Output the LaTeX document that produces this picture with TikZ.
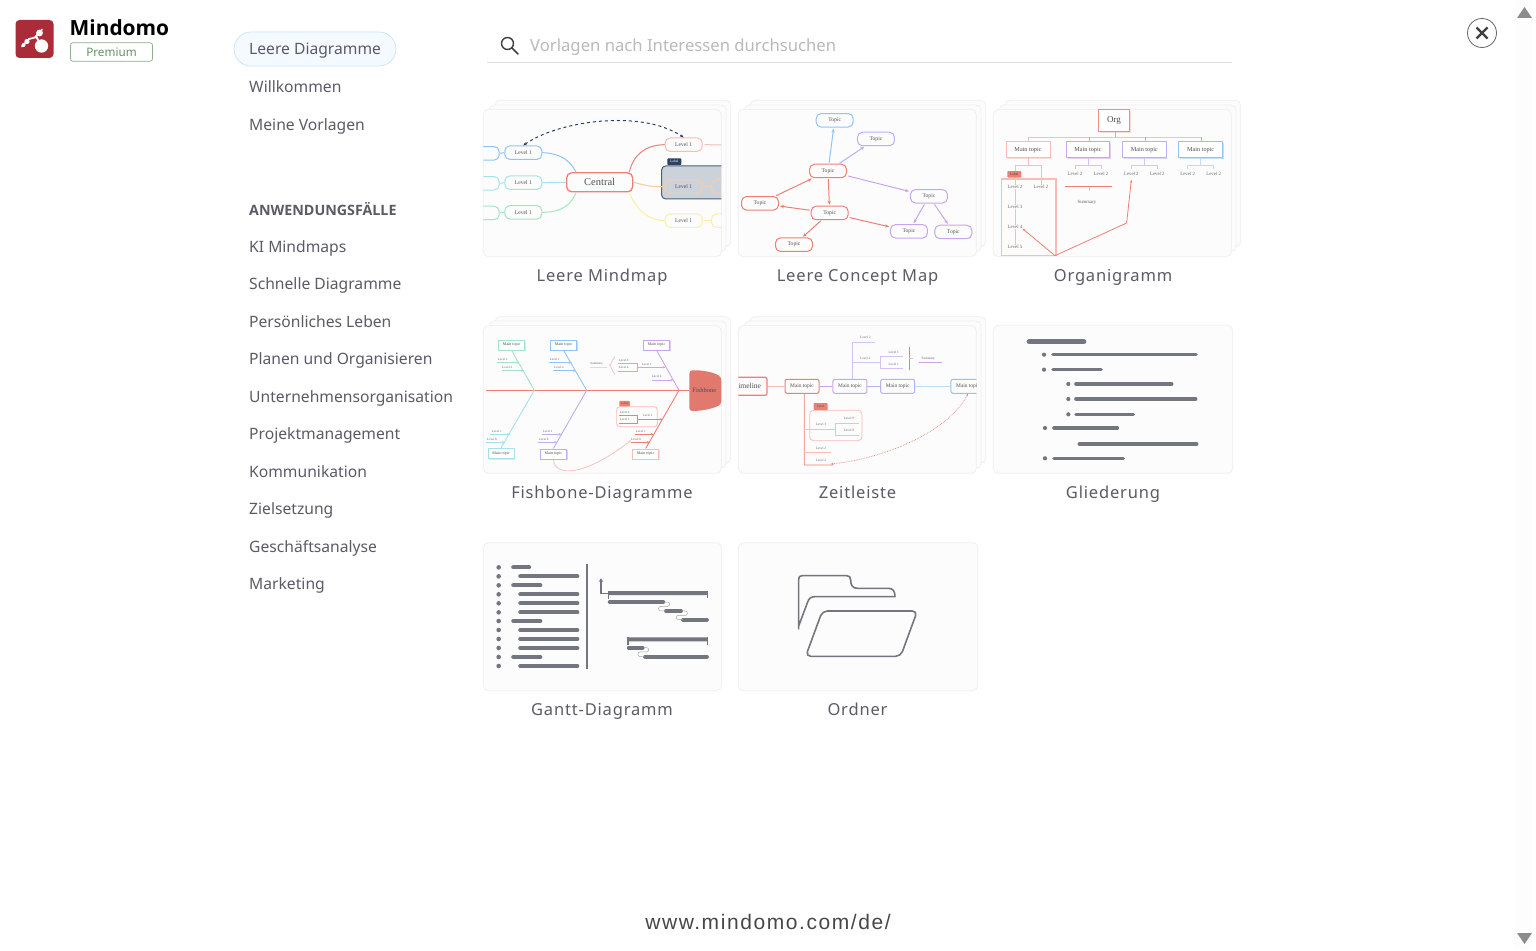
\documentclass[tikz,border=0pt]{standalone}
\usepackage{fontspec}
\setmainfont{Noto Sans}
\newfontfamily\headfont{Open Sans}
\newfontfamily\cardfont[LetterSpace=5]{Noto Sans}
\newfontfamily\urlfont[LetterSpace=7.5]{Liberation Sans}
\newfontfamily\thumbfont{Liberation Serif}
\usetikzlibrary{arrows.meta,shadows}
\definecolor{navtext}{HTML}{5B5B66}
\definecolor{cardedge}{HTML}{EEEEF0}
\definecolor{cardfill}{HTML}{FCFCFC}
\definecolor{bargray}{HTML}{74767F}
\definecolor{logored}{HTML}{A92C38}
\definecolor{mmred}{HTML}{EE7F74}
\definecolor{mmpale}{HTML}{F8BDB7}
\definecolor{mmblue}{HTML}{90C4F6}
\definecolor{mmcyan}{HTML}{A6E2EA}
\definecolor{mmgreen}{HTML}{A3E4C4}
\definecolor{mmyellow}{HTML}{FBEFA8}
\definecolor{mmorange}{HTML}{F3CFA6}
\definecolor{mmpurple}{HTML}{C9A5F0}
\definecolor{mmlav}{HTML}{B7B2F6}
\definecolor{mmnavy}{HTML}{2C4263}
\definecolor{mmslate}{HTML}{CBD2DA}
\tikzset{
  navitem/.style={anchor=base west,inner sep=0pt,text=navtext,font=\fontsize{15.65}{19}\selectfont},
  cardlabel/.style={anchor=base,inner sep=0pt,text=navtext,font=\cardfont\fontsize{16.5}{19}\selectfont},
  thumb/.style 2 args={shift={(#1,#2)},x=0.3333pt,y=-0.3333pt},
  card/.style={draw=cardedge,fill=cardfill,line width=0.7pt,rounded corners=5pt},
  tinytext/.style={inner sep=0pt,text=black!60,font=\thumbfont\fontsize{4.8}{5}\selectfont},
  pilltopic/.style={draw=#1,fill=cardfill,line width=1pt,rounded corners=5pt,minimum width=37pt,minimum height=13.5pt,inner sep=0pt,text=black!68,font=\thumbfont\fontsize{5.6}{6}\selectfont},
  mainbox/.style={draw=#1,fill=white,line width=0.9pt,general shadow={fill=#1!55,shadow xshift=1.3pt,shadow yshift=-1.3pt},inner sep=0pt,text=black!70,font=\thumbfont\fontsize{6.2}{7}\selectfont},
  bartag/.style={fill=#1,rounded corners=0.8pt,inner sep=0pt,minimum width=14pt,minimum height=6.5pt,text=white,font=\thumbfont\fontsize{3.6}{4}\selectfont},
  bar/.style={line width=#1,line cap=round,draw=bargray},
  tip/.style={-{Stealth[length=4pt,width=3.4pt]},shorten >=1pt,shorten <=1pt},
  tipsmall/.style={-{Stealth[length=3pt,width=2.4pt]}},
}
\begin{document}
\begin{tikzpicture}[x=1pt,y=-1pt]
\useasboundingbox (0,0) rectangle (1536,950);
\fill[white] (0,0) rectangle (1536,950);
% scrollbar
\fill[black!0.8] (1514,0) rectangle (1532,950);
\fill[black!45] (1524.5,7) -- (1532,18) -- (1517,18) -- cycle;
\fill[black!45] (1517,933) -- (1532,933) -- (1524.5,944) -- cycle;
% logo
\fill[logored,rounded corners=4pt] (15.5,20) rectangle (53.5,58);
\fill[white] (41.5,46) circle (6.7pt);
\fill[white] (39.5,33) circle (3.4pt);
\fill[white] (27,41.5) circle (2.6pt);
\fill[white] (23.5,45) circle (2pt);
\draw[white,line width=1.8pt,line cap=round] (22,46.5) -- (29,39) -- (35,37.5) -- (42,29.5);
\draw[white,line width=2pt,line cap=round] (36,36) -- (40,44);
\node[anchor=base west,inner sep=0pt,font=\headfont\bfseries\fontsize{20.9}{24}\selectfont] (brand) at (69.5,36) {Mindomo};
\node[draw=green!30!black!45,fill=white,rounded corners=2.5pt,line width=0.7pt,minimum width=82pt,minimum height=18.5pt,inner sep=0pt,text=green!30!black!60,font=\fontsize{11.7}{14}\selectfont] (plan) at (111.5,52) {Premium};
% side menu
\node[draw=blue!50!cyan!22,fill=blue!50!cyan!4,rounded corners=17pt,line width=0.7pt,minimum width=162pt,minimum height=34pt] (pill) at (315,49) {};
\node[navitem] (navBlank) at (249,55) {Leere Diagramme};
\node[navitem] (navWelcome) at (249,92.5) {Willkommen};
\node[navitem] (navMine) at (249,130) {Meine Vorlagen};
\node[navitem,font=\headfont\bfseries\fontsize{14.25}{17}\selectfont] (navHead) at (249,215) {ANWENDUNGSFÄLLE};
\node[navitem] (navAi) at (249,252) {KI Mindmaps};
\node[navitem] (navFast) at (249,289.5) {Schnelle Diagramme};
\node[navitem] (navLife) at (249,327) {Persönliches Leben};
\node[navitem] (navPlan) at (249,364.5) {Planen und Organisieren};
\node[navitem] (navOrg) at (249,402) {Unternehmensorganisation};
\node[navitem] (navProj) at (249,439.5) {Projektmanagement};
\node[navitem] (navComm) at (249,477) {Kommunikation};
\node[navitem] (navGoal) at (249,514.5) {Zielsetzung};
\node[navitem] (navBiz) at (249,552) {Geschäftsanalyse};
\node[navitem] (navMark) at (249,589.5) {Marketing};
% search
\draw[black!75,line width=1.4pt] (507.5,43.5) circle (6pt);
\draw[black!75,line width=1.6pt,line cap=round] (512,48) -- (518,54);
\node[anchor=base west,inner sep=0pt,text=black!27,font=\fontsize{16.67}{20}\selectfont] (searchText) at (530,52) {Vorlagen nach Interessen durchsuchen};
\draw[black!14,line width=0.8pt] (487,62.5) -- (1232,62.5);
% close
\node[circle,draw=black!60,line width=0.8pt,minimum size=29pt,inner sep=0pt] (closeBtn) at (1482,33) {};
\draw[black!75,line width=2.4pt] (1476.5,27.5) -- (1487.5,38.5);
\draw[black!75,line width=2.4pt] (1487.5,27.5) -- (1476.5,38.5);
% footer
\node[anchor=base,inner sep=0pt,text=black!72,font=\urlfont\fontsize{21}{24}\selectfont] (footer) at (768,929) {www.mindomo.com/de/};

% card labels
\node[cardlabel] (capMind) at (602,281.5) {Leere Mindmap};
\node[cardlabel] (capConcept) at (857.5,281.5) {Leere Concept Map};
\node[cardlabel] (capOrg) at (1113,281.5) {Organigramm};
\node[cardlabel] (capFish) at (602,498.5) {Fishbone-Diagramme};
\node[cardlabel] (capTime) at (857.5,498.5) {Zeitleiste};
\node[cardlabel] (capOutline) at (1113,498.5) {Gliederung};
\node[cardlabel] (capGantt) at (602,715.5) {Gantt-Diagramm};
\node[cardlabel] (capFolder) at (857.5,715.5) {Ordner};

% mindmap
\begin{scope}[thumb={480}{95}]
\draw[card] (45,16) rectangle (752,455);
\draw[card] (28,30) rectangle (738,470);
\draw[card] (10,43) rectangle (724,485);
\clip[rounded corners=5pt] (10,43) rectangle (724,485);
\draw[draw=mmnavy!85,fill=mmslate,line width=1pt,rounded corners=4pt] (545,213) rectangle (780,312);
\node[bartag=mmnavy] (tagA) at (583,200) {Label};
\node[pilltopic=mmred,line width=1.3pt,minimum width=66pt,minimum height=19pt,font=\thumbfont\fontsize{10.5}{12}\selectfont] (cen) at (359,262) {Central};
\node[pilltopic=mmblue] (lvA) at (130,173) {Level 1};
\node[pilltopic=mmcyan] (lvB) at (130,263) {Level 1};
\node[pilltopic=mmgreen] (lvC) at (130,352) {Level 1};
\node[pilltopic=mmblue] (farA) at (2,175) {};
\node[pilltopic=mmcyan] (farB) at (2,265) {};
\node[pilltopic=mmgreen] (farC) at (2,354) {};
\node[pilltopic=mmpale] (rtA) at (611,149) {Level 1};
\node[pilltopic=mmorange,fill=none] (rtB) at (611,275) {Level 1};
\node[pilltopic=mmyellow] (rtC) at (611,377) {Level 1};
\node[pilltopic=mmorange,fill=none] (farD) at (750,275) {};
\node[pilltopic=mmyellow] (farE) at (750,377) {};
\coordinate (endA) at (730,150);
\draw[mmblue,line width=1pt] (lvA.east) .. controls (250,175) and (275,205) .. ([xshift=10pt]cen.north west);
\draw[mmcyan,line width=1.1pt] (lvB.east) -- (cen.west);
\draw[mmgreen,line width=1pt] (lvC.east) .. controls (250,352) and (275,325) .. ([xshift=10pt]cen.south west);
\draw[mmblue,line width=1pt] (lvA.west) -- (farA.east);
\draw[mmcyan,line width=1pt] (lvB.west) -- (farB.east);
\draw[mmgreen,line width=1pt] (lvC.west) -- (farC.east);
\draw[mmred,line width=1pt] ([xshift=-4pt]cen.north east) .. controls (460,180) and (495,150) .. (rtA.west);
\draw[mmorange,line width=1.1pt] (cen.east) .. controls (500,272) and (520,277) .. (rtB.west);
\draw[mmyellow,line width=1pt] ([xshift=-4pt]cen.south east) .. controls (470,345) and (505,377) .. (rtC.west);
\draw[mmpale,line width=1pt] ([xshift=2pt]rtA.east) -- (endA);
\draw[mmorange,line width=1pt] (rtB.east) -- (farD.west);
\draw[mmyellow,line width=1pt] (rtC.east) -- (farE.west);
\draw[mmnavy,line width=1pt,dashed,{Stealth[length=3.5pt,width=3pt]}-{Stealth[length=3.5pt,width=3pt]}] (lvA.north) .. controls (230,80) and (480,40) .. (rtA.north);
\end{scope}

% concept map
\begin{scope}[thumb={735}{95}]
\draw[card] (45,16) rectangle (752,455);
\draw[card] (28,30) rectangle (738,470);
\draw[card] (10,43) rectangle (724,485);
\node[pilltopic=mmblue] (tpTop) at (299,76) {Topic};
\node[pilltopic=mmlav] (tpLav) at (423,132) {Topic};
\node[pilltopic=mmred] (tpMid) at (279,228) {Topic};
\node[pilltopic=mmred] (tpLeft) at (75,325) {Topic};
\node[pilltopic=mmred] (tpLow) at (284,354) {Topic};
\node[pilltopic=mmpurple] (tpRight) at (582,304) {Topic};
\node[pilltopic=mmpurple] (tpRa) at (522,409) {Topic};
\node[pilltopic=mmpurple] (tpRb) at (655,411) {Topic};
\node[pilltopic=mmred] (tpBot) at (177,449) {Topic};
\draw[mmblue,line width=1pt,tip] (tpMid) -- (tpTop);
\draw[mmlav,line width=1pt,tip] (tpMid) -- (tpLav);
\draw[mmpurple,line width=1pt,tip] (tpMid) -- (tpRight);
\draw[mmred,line width=1pt,tip] (tpLeft) -- (tpMid);
\draw[mmred,line width=1pt,tip] (tpMid) -- (tpLow);
\draw[mmred,line width=1pt,tip] (tpLow) -- (tpLeft);
\draw[mmred,line width=1pt,tip] (tpLow) -- (tpRa);
\draw[mmred,line width=1pt,tip] (tpLow) -- (tpBot);
\draw[mmpurple,line width=1pt,tip] (tpRight) -- (tpRa);
\draw[mmpurple,line width=1pt,tip] (tpRight) -- (tpRb);
\end{scope}

% org chart
\begin{scope}[thumb={990}{95}]
\draw[card] (45,16) rectangle (752,455);
\draw[card] (28,30) rectangle (738,470);
\draw[card] (10,43) rectangle (724,485);
\coordinate (busA) at (116,127);
\coordinate (busB) at (298,127);
\coordinate (busC) at (375,127);
\coordinate (busD) at (466,127);
\coordinate (busE) at (634,127);
\draw[mmpale,line width=1.1pt] (busA) -- (busB);
\draw[mmpurple!70,line width=1.1pt] (busB) -- (busC);
\draw[mmblue!70,line width=1.1pt] (busC) -- (busE);
\node[mainbox=mmpale,draw=mmred!90,line width=1.1pt,minimum width=30.5pt,minimum height=22pt,font=\thumbfont\fontsize{9}{10}\selectfont] (org) at (372,77) {Org};
\node[mainbox=mmpale,minimum width=44pt,minimum height=16pt] (mtA) at (114,164) {Main topic};
\node[mainbox=mmpurple,minimum width=43.5pt,minimum height=16pt] (mtB) at (294,164) {Main topic};
\node[mainbox=mmlav,minimum width=43.5pt,minimum height=16pt] (mtC) at (463,164) {Main topic};
\node[mainbox=mmblue,minimum width=43.5pt,minimum height=16pt] (mtD) at (632,164) {Main topic};
\draw[mmpale,line width=1pt] (busA) -- (mtA.north -| busA);
\draw[mmpurple,line width=1pt] (busB) -- (mtB.north -| busB);
\draw[mmlav,line width=1pt] (busD) -- (mtC.north -| busD);
\draw[mmblue,line width=1pt] (busE) -- (mtD.north -| busE);
\draw[mmblue,line width=1pt] (org.south -| busC) -- (busC);
% level 2 rows
\node[tinytext] (aa) at (75,275) {Level 2};
\node[tinytext] (ab) at (153,275) {Level 2};
\node[tinytext] (ba) at (255,237) {Level 2};
\node[tinytext] (bb) at (333,237) {Level 2};
\node[tinytext] (ca) at (424,237) {Level 2};
\node[tinytext] (cb) at (502,237) {Level 2};
\node[tinytext] (da) at (593,237) {Level 2};
\node[tinytext] (db) at (671,237) {Level 2};
\draw[mmpale,line width=0.8pt] (mtA.south) -- ++(0,23) -| (ab.north);
\draw[mmpale,line width=0.8pt] (mtA.south) -- ++(0,23) -| (aa.north);
\draw[mmpurple!70,line width=0.8pt] (mtB.south) -- ++(0,23) -| ([yshift=3pt]ba.north);
\draw[mmpurple!70,line width=0.8pt] (mtB.south) -- ++(0,23) -| ([yshift=3pt]bb.north);
\draw[mmlav!70,line width=0.8pt] (mtC.south) -- ++(0,23) -| ([yshift=3pt]ca.north);
\draw[mmlav!70,line width=0.8pt] (mtC.south) -- ++(0,23) -| ([yshift=3pt]cb.north);
\draw[mmblue!60,line width=0.8pt] (mtD.south) -- ++(0,23) -| ([yshift=3pt]da.north);
\draw[mmblue!60,line width=0.8pt] (mtD.south) -- ++(0,23) -| ([yshift=3pt]db.north);
\node[bartag=mmred,text=black!75] (tagC) at (73,238) {Label};
\draw[mmpale,line width=1.1pt] (34,252) rectangle (198,482);
\node[tinytext] (ac) at (75,335) {Level 3};
\node[tinytext] (ad) at (75,395) {Level 4};
\node[tinytext] (ae) at (75,455) {Level 5};
\draw[mmpale,line width=0.8pt] (aa) -- (ac);
\draw[mmpale,line width=0.8pt] (ac) -- (ad);
\draw[mmpale,line width=0.8pt] (ad) -- (ae);
\node[tinytext] (summ) at (291,322) {Summary};
\coordinate (sumL) at (226,275);
\coordinate (sumR) at (367,275);
\coordinate (sumT) at (297,275);
\draw[mmred,line width=1pt] (sumL) -- (sumR);
\draw[mmpale,line width=1pt] (sumT) -- ++(0,12);
\coordinate (relS) at (195,482);
\coordinate (relK) at (410,384);
\draw[mmred,line width=0.8pt,tipsmall] (relS) -- (ad.south east);
\draw[mmred,line width=0.8pt,tipsmall] (relS) -- (relK) -- ([yshift=-4pt]ca.south);
\end{scope}

% fishbone
\begin{scope}[thumb={480}{315}]
\draw[card] (45,5) rectangle (752,445);
\draw[card] (28,18) rectangle (738,460);
\draw[card] (10,32) rectangle (724,475);
\begin{scope}
\clip[rounded corners=5pt] (10,32) rectangle (724,475);
\fill[mmred!95!black,rounded corners=3pt] (628,166) .. controls (670,165) and (700,172) .. (724,186) -- (724,268) .. controls (700,280) and (670,288) .. (628,288) -- cycle;
\end{scope}
\node[inner sep=0pt,text=black!70,font=\thumbfont\fontsize{6.5}{8}\selectfont] (fishHead) at (673,225) {Fishbone};
\coordinate (tail) at (18,226);
\coordinate (jA) at (163,226);
\coordinate (jB) at (320,226);
\coordinate (jC) at (597,226);
\draw[mmred,line width=1.1pt] (tail) -- (628,226);
\node[mainbox=mmgreen,minimum width=26pt,minimum height=10pt,font=\thumbfont\fontsize{4}{4}\selectfont] (mA) at (95,90) {Main topic};
\node[mainbox=mmblue,minimum width=26pt,minimum height=10pt,font=\thumbfont\fontsize{4}{4}\selectfont] (mB) at (251,90) {Main topic};
\node[mainbox=mmpurple,minimum width=26pt,minimum height=10pt,font=\thumbfont\fontsize{4}{4}\selectfont] (mC) at (530,90) {Main topic};
\node[mainbox=mmcyan,minimum width=26pt,minimum height=10pt,font=\thumbfont\fontsize{4}{4}\selectfont] (mD) at (63,415) {Main topic};
\node[mainbox=mmlav,minimum width=26pt,minimum height=10pt,font=\thumbfont\fontsize{4}{4}\selectfont] (mE) at (220,417) {Main topic};
\node[mainbox=mmpale,minimum width=26pt,minimum height=10pt,font=\thumbfont\fontsize{4}{4}\selectfont] (mF) at (497,417) {Main topic};
\draw[mmgreen,line width=0.9pt] (mA.south) -- (jA);
\draw[mmblue,line width=0.9pt] (mB.south) -- (jB);
\draw[mmpurple,line width=0.9pt] (mC.south) -- (jC);
\draw[mmcyan,line width=0.9pt] (jA) -- (mD.north);
\draw[mmlav,line width=0.9pt] (jB) -- (mE.north);
\draw[mmred,line width=0.9pt] (jC) -- (mF.north);
\tikzset{tinytext/.append style={font=\thumbfont\fontsize{3.2}{4}\selectfont}}
\node[tinytext] (nA) at (68,133) {Level 2};
\node[tinytext] (nB) at (82,157) {Level 2};
\node[tinytext] (nC) at (224,133) {Level 2};
\node[tinytext] (nD) at (237,157) {Level 2};
\node[tinytext] (nE) at (500,147) {Level 1};
\node[tinytext] (nF) at (530,185) {Level 2};
\node[tinytext] (nG) at (431,135) {Level 4};
\node[tinytext] (nH) at (431,158) {Level 4};
\node[tinytext] (nI) at (50,348) {Level 1};
\node[tinytext] (nJ) at (36,372) {Level 0};
\node[tinytext] (nK) at (203,348) {Level 1};
\node[tinytext] (nL) at (191,372) {Level 0};
\node[tinytext] (nM) at (482,348) {Level 1};
\node[tinytext] (nN) at (468,372) {Level 0};
\node[tinytext] (nP) at (350,147) {Summary};
\node[tinytext] (nQ) at (434,291) {Level 4};
\node[tinytext] (nR) at (434,314) {Level 1};
\node[tinytext] (nS) at (503,302) {Level 2};
\draw[mmgreen,line width=0.7pt,tipsmall] (50,143) -- (118,143);
\draw[mmgreen,line width=0.7pt,tipsmall] (65,167) -- (133,167);
\draw[mmblue,line width=0.7pt,tipsmall] (207,143) -- (275,143);
\draw[mmblue,line width=0.7pt,tipsmall] (220,167) -- (288,167);
\draw[mmpurple,line width=0.7pt,tipsmall] (472,157) -- (557,157);
\draw[mmpurple,line width=0.7pt,tipsmall] (515,195) -- (580,195);
\draw[mmpurple,line width=0.7pt] (415,145) -- (472,145) -- (472,170) -- (415,170);
\draw[mmpurple!50,line width=0.6pt] (330,157) -- (380,157);
\draw[mmpale,line width=0.7pt] (405,125) .. controls (392,140) and (395,150) .. (388,150) .. controls (395,150) and (392,165) .. (405,178);
\draw[mmcyan,line width=0.7pt,tipsmall] (30,358) -- (90,358);
\draw[mmcyan,line width=0.7pt,tipsmall] (18,382) -- (75,382);
\draw[mmlav,line width=0.7pt,tipsmall] (187,358) -- (245,358);
\draw[mmlav,line width=0.7pt,tipsmall] (175,382) -- (232,382);
\draw[mmred,line width=0.7pt,tipsmall] (465,358) -- (522,358);
\draw[mmred,line width=0.7pt,tipsmall] (452,382) -- (510,382);
\draw[mmpale,line width=0.8pt,rounded corners=3pt] (410,275) rectangle (532,335);
\node[bartag=mmred,minimum width=10.5pt,minimum height=5.5pt,text=black!70,font=\thumbfont\fontsize{3}{4}\selectfont] (tagD) at (434,266) {Label};
\draw[mmred,line width=0.7pt] (418,300) -- (472,300) -- (472,325) -- (418,325);
\draw[mmred,line width=0.7pt,tipsmall] (472,313) -- (548,313);
\draw[mmpale,line width=0.7pt,tipsmall] (mE.south) .. controls (225,490) and (320,480) .. (nN.south west);
\end{scope}

% timeline
\begin{scope}[thumb={735}{315}]
\draw[card] (45,5) rectangle (752,445);
\draw[card] (28,18) rectangle (738,460);
\draw[card] (10,32) rectangle (724,475);
\clip[rounded corners=5pt] (10,32) rectangle (724,475);
\tikzset{tinytext/.append style={font=\thumbfont\fontsize{3.4}{4}\selectfont}}
\node[pilltopic=mmred,rounded corners=2pt,minimum width=39pt,minimum height=18pt,line width=1.2pt,font=\thumbfont\fontsize{7.6}{9}\selectfont] (tlRoot) at (37.5,214) {Timeline};
\node[pilltopic=mmred,rounded corners=2pt,minimum width=34pt,minimum height=14pt,font=\thumbfont\fontsize{5.4}{6}\selectfont] (tlA) at (201,214) {Main topic};
\node[pilltopic=mmpurple,rounded corners=2pt,minimum width=34pt,minimum height=14pt,font=\thumbfont\fontsize{5.4}{6}\selectfont] (tlB) at (345,214) {Main topic};
\node[pilltopic=mmlav,rounded corners=2pt,minimum width=34pt,minimum height=14pt,font=\thumbfont\fontsize{5.4}{6}\selectfont] (tlC) at (488,214) {Main topic};
\node[pilltopic=mmblue,rounded corners=2pt,minimum width=34pt,minimum height=14pt,font=\thumbfont\fontsize{5.4}{6}\selectfont] (tlD) at (699,214) {Main topic};
\draw[mmpale,line width=1pt] (tlRoot) -- (tlA);
\draw[mmpurple,line width=1pt] (tlA) -- (tlB);
\draw[mmlav,line width=1pt] (tlB) -- (tlC);
\draw[mmblue!60,line width=1pt] (tlC) -- (tlD);
\node[tinytext] (upA) at (391,68) {Level 2};
\node[tinytext] (upB) at (391,129) {Level 2};
\node[tinytext] (upC) at (476,112) {Level 1};
\node[tinytext] (upD) at (476,148) {Level 1};
\node[tinytext] (upE) at (580,130) {Summary};
\draw[mmpurple!70,line width=0.7pt] ([xshift=2pt]tlB.north) |- (420,83);
\draw[mmpurple!70,line width=0.7pt] ([xshift=2pt]tlB.north) |- (436,143);
\draw[mmpurple!70,line width=0.7pt] (504,125) -- (436,125) -- (436,160) -- (504,160);
\draw[mmred,line width=0.9pt] (523,95) -- (523,165);
\draw[mmpale,line width=0.7pt] (523,130) -- (535,130);
\draw[mmpurple,line width=0.7pt] (552,142) -- (620,142);
\draw[mmpale,line width=0.8pt,rounded corners=4pt] (224,286) rectangle (381,377);
\node[bartag=mmred,minimum width=14pt,minimum height=7pt,text=black!70,font=\thumbfont\fontsize{3.2}{4}\selectfont] (tagE) at (257,275) {Label};
\node[tinytext] (dnA) at (258,329) {Level 3};
\node[tinytext] (dnB) at (342,311) {Level 9};
\node[tinytext] (dnC) at (342,347) {Level 9};
\node[tinytext] (dnD) at (258,400) {Level 2};
\node[tinytext] (dnE) at (258,436) {Level 2};
\draw[mmred,line width=0.8pt] ([xshift=2.3pt]tlA.south) -- (208,450) -- (295,450);
\draw[mmpale,line width=0.7pt] (208,343) -- (302,343);
\draw[mmpale,line width=0.7pt] (372,325) -- (302,325) -- (302,360) -- (372,360);
\draw[mmpale,line width=0.7pt] (208,413) -- (287,413);
\draw[mmred,line width=0.7pt,densely dotted,{Stealth[length=2.5pt,width=2.2pt]}-{Stealth[length=2.5pt,width=2.2pt]}] (288,447) .. controls (450,430) and (640,350) .. (tlD.south);
\end{scope}

% outline
\begin{scope}[thumb={990}{320}]
\draw[card] (10,16) rectangle (728,460);
\draw[bar=5.5pt] (118,65) -- (281,65);
\fill[bargray] (162,104) circle (2.1pt);
\draw[bar=3.6pt] (189,104) -- (618,104);
\fill[bargray] (162,149) circle (2.1pt);
\draw[bar=3.6pt] (189,149) -- (333,149);
\fill[bargray] (235,192) circle (2.1pt);
\draw[bar=3.6pt] (258,192) -- (545,192);
\fill[bargray] (235,237) circle (2.1pt);
\draw[bar=3.6pt] (258,237) -- (617,237);
\fill[bargray] (235,283) circle (2.1pt);
\draw[bar=3.6pt] (258,283) -- (430,283);
\fill[bargray] (165,324) circle (2.1pt);
\draw[bar=3.6pt] (192,324) -- (382,324);
\draw[bar=3.6pt] (268,372) -- (620,372);
\fill[bargray] (165,415) circle (2.1pt);
\draw[bar=3.6pt] (192,415) -- (400,415);
\end{scope}

% gantt
\begin{scope}[thumb={480}{540}]
\draw[card] (10,8) rectangle (724,452);
\fill[bargray] (56,82) circle (2.3pt);
\fill[bargray] (56,109) circle (2.3pt);
\fill[bargray] (56,136) circle (2.3pt);
\fill[bargray] (56,163) circle (2.3pt);
\fill[bargray] (56,190) circle (2.3pt);
\fill[bargray] (56,217) circle (2.3pt);
\fill[bargray] (56,243) circle (2.3pt);
\fill[bargray] (56,270) circle (2.3pt);
\fill[bargray] (56,297) circle (2.3pt);
\fill[bargray] (56,324) circle (2.3pt);
\fill[bargray] (56,351) circle (2.3pt);
\fill[bargray] (56,378) circle (2.3pt);
\draw[bar=4.2pt] (100,82) -- (147,82);
\draw[bar=4.2pt] (121,109) -- (292,109);
\draw[bar=4.2pt] (100,136) -- (181,136);
\draw[bar=4.2pt] (121,163) -- (292,163);
\draw[bar=4.2pt] (121,190) -- (292,190);
\draw[bar=4.2pt] (121,217) -- (292,217);
\draw[bar=4.2pt] (100,243) -- (181,243);
\draw[bar=4.2pt] (121,270) -- (292,270);
\draw[bar=4.2pt] (121,297) -- (292,297);
\draw[bar=4.2pt] (121,324) -- (292,324);
\draw[bar=4.2pt] (100,351) -- (181,351);
\draw[bar=4.2pt] (121,378) -- (292,378);
\draw[bargray,line width=1.1pt] (321,72) -- (321,386);
% chart side
\draw[bargray,line width=1.2pt,-{Stealth[length=3.5pt,width=4.5pt]}] (385,160) -- (363,160) -- (363,115);
\fill[bargray,rounded corners=0.6pt] (385,153) rectangle (684,165);
\fill[bargray] (384,153) rectangle (388,176);
\fill[bargray] (680,153) rectangle (684,174);
\draw[bar=3.8pt] (389,186) -- (550,186);
\draw[bar=3.8pt] (558,213) -- (603,213);
\draw[bar=3.8pt] (609,239) -- (681,239);
\fill[bargray,rounded corners=0.6pt] (443,292) rectangle (684,304);
\fill[bargray] (442,292) rectangle (446,314);
\fill[bargray] (680,292) rectangle (684,314);
\draw[bar=3.8pt] (446,323) -- (488,323);
\draw[bar=3.8pt] (495,350) -- (681,350);
\draw[black!35,line width=0.5pt,rounded corners=2pt] (553,186) -- (569,186) -- (569,199) -- (536,199) -- (536,213) -- (556,213);
\draw[black!35,line width=0.5pt,rounded corners=2pt] (606,213) -- (622,213) -- (622,226) -- (589,226) -- (589,239) -- (608,239);
\draw[black!35,line width=0.5pt,rounded corners=2pt] (491,323) -- (506,323) -- (506,336) -- (474,336) -- (474,350) -- (494,350);
\end{scope}

% folder
\begin{scope}[thumb={735}{540}]
\draw[card] (10,8) rectangle (728,452);
\draw[bargray,line width=1.6pt,line join=round] (191,268) -- (191,118) .. controls (191,110) and (194,107) .. (202,107) -- (335,107) .. controls (343,107) and (347,111) .. (347,120) .. controls (347,135) and (352,145) .. (368,145) -- (460,145) .. controls (474,145) and (480,153) .. (480,170) -- (240,170) .. controls (228,170) and (222,175) .. (218,186) -- (191,258);
\draw[bargray,line width=1.6pt,rounded corners=5pt] (262,213) -- (547,213) -- (497,349) -- (212,349) -- cycle;
\end{scope}
\end{tikzpicture}
\end{document}
